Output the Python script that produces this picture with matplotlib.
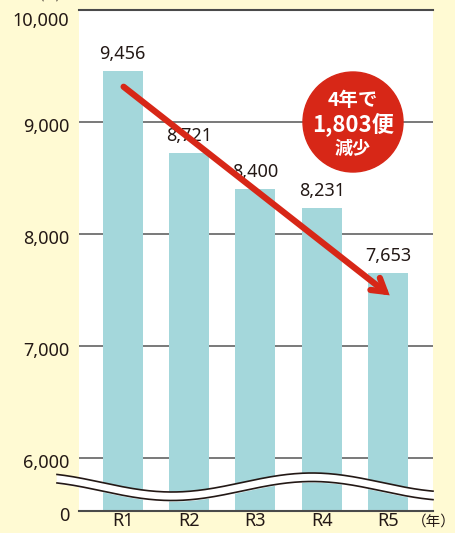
import numpy as np
import matplotlib
matplotlib.use("Agg")
import matplotlib.pyplot as plt
from matplotlib.patches import Circle
from matplotlib.transforms import ScaledTranslation

plt.rcParams['font.family'] = ['Noto Sans', 'Noto Sans CJK JP', 'DejaVu Sans']

years = ["R1", "R2", "R3", "R4", "R5"]
flights = [9456, 8721, 8400, 8231, 7653]
yticks = [6000, 7000, 8000, 9000, 10000]
ytick_labels = ["6,000", "7,000", "8,000", "9,000", "10,000"]

bg = "#fffad3"
bar_color = "#a4d7db"
red = "#d72717"
ink = "#231815"
base = 5527  # where the broken axis shows "0"

fig = plt.figure(figsize=(4.56, 5.33), dpi=100, facecolor=bg)
ax = fig.add_axes([79/456, 1-511/533, 354/456, 501/533])
ax.set_facecolor("white")

x = np.arange(len(years))
ax.bar(x, [v - base for v in flights], bottom=base, width=0.6, color=bar_color, zorder=2)
for xi, v in zip(x, flights):
    ax.text(xi, v + 70, f"{v:,}", ha="center", va="bottom", fontsize=13, color=ink, zorder=4)

for t in yticks[:-1]:
    ax.axhline(t, color="#6e6e6e", lw=1.3, zorder=1)
ax.axhline(10000, color="#4a4a4a", lw=1.5, zorder=1, clip_on=False)

ax.set_xlim(-0.66, 4.68)
ax.set_ylim(base, 10000)
ax.set_yticks([base] + yticks)
ax.set_yticklabels(["0"] + ytick_labels)
ax.set_xticks(x)
ax.set_xticklabels(years)
ax.tick_params(length=0, labelsize=13, colors=ink)
ax.tick_params(axis="x", pad=1)
ax.tick_params(axis="y", pad=7)
for s in ["top", "left", "right"]:
    ax.spines[s].set_visible(False)
ax.spines["bottom"].set_color("#4a4a4a")
ax.spines["bottom"].set_linewidth(1.5)

# y labels sit a little under their lines
for i, lab in enumerate(ax.get_yticklabels()):
    dy = -9 if i == len(yticks) else -3
    lab.set_transform(lab.get_transform() + ScaledTranslation(0, dy / 100, fig.dpi_scale_trans))

# decreasing trend arrow
ax.annotate("", xy=(4.06, 7437), xytext=(-0.02, 9330),
            arrowprops=dict(arrowstyle="->,head_length=0.9,head_width=0.55", color=red,
                            lw=4.5, capstyle="round", joinstyle="miter"), zorder=5)

# overlay in pixel units for the decorations
ov = fig.add_axes([0, 0, 1, 1], facecolor="none")
ov.set_xlim(0, 456)
ov.set_ylim(533, 0)
ov.axis("off")

wx = np.linspace(57, 433, 300)
upper = 482.5 + 9.5 * np.cos(np.pi * (wx - 172) / 140)
lower = upper + 8.5
ov.fill_between(wx, upper, lower, color="white", zorder=3)
ov.plot(wx, upper, color=ink, lw=1.2, zorder=4)
ov.plot(wx, lower, color=ink, lw=1.2, zorder=4)

ov.add_patch(Circle((353, 122), 50, color=red, zorder=5))
cjk = ['Noto Sans CJK JP', 'DejaVu Sans']
ov.text(353, 101, "4年で", ha="center", va="center", color="white", fontsize=14,
        family=cjk, fontweight="bold", zorder=6)
ov.text(353, 125, "1,803便", ha="center", va="center", color="white", fontsize=16,
        family=cjk, fontweight="bold", zorder=6)
ov.text(353, 148, "減少", ha="center", va="center", color="white", fontsize=13,
        family=cjk, fontweight="bold", zorder=6)

ov.text(434, 522, "（年）", ha="center", va="center", fontsize=10.5, color=ink, family=cjk)
ov.text(50, 3, "(便)", ha="center", va="bottom", fontsize=9, color=ink, family=cjk)

fig.savefig("out.png", dpi=100, facecolor=bg)
